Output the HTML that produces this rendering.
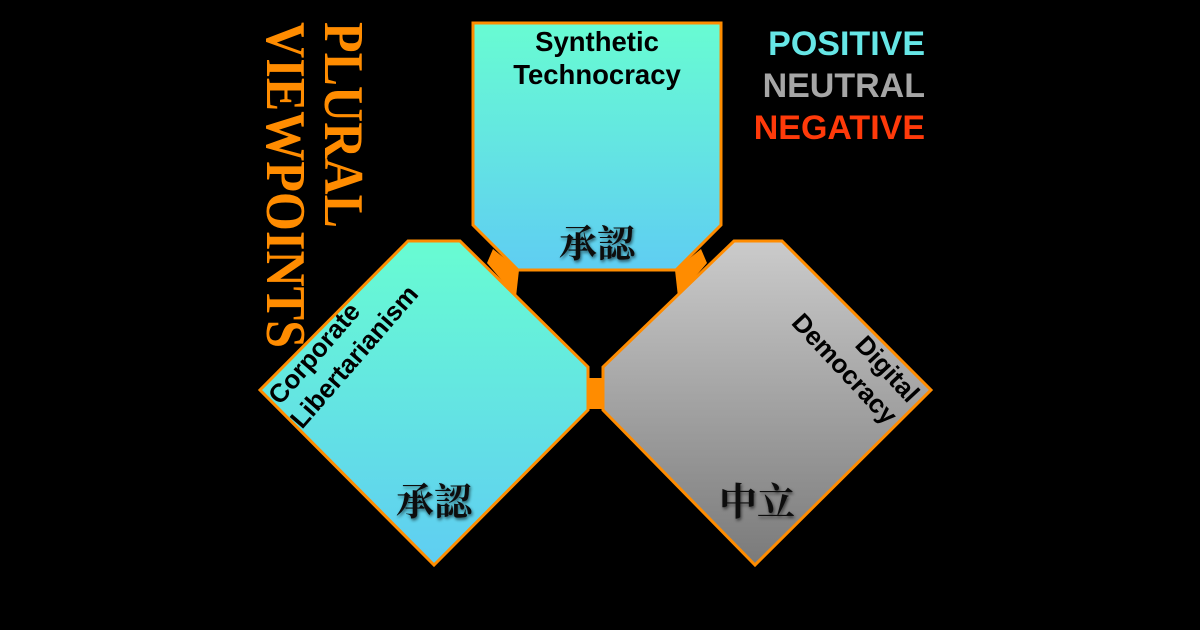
<!DOCTYPE html>
<html><head><meta charset="utf-8"><style>
html,body{margin:0;padding:0;background:#000;}
svg{display:block}
.s{font-family:"Liberation Sans",sans-serif;font-weight:bold;}
.c{font-family:"Liberation Serif","Noto Serif CJK SC",serif;font-weight:bold;font-size:38px;fill:#111;}
</style></head><body>
<svg width="1200" height="630" viewBox="0 0 1200 630" xmlns="http://www.w3.org/2000/svg">
<defs>
<linearGradient id="t" x1="0" y1="0" x2="0" y2="1"><stop offset="0" stop-color="#68fcd2"/><stop offset="1" stop-color="#5fcdf2"/></linearGradient>
<linearGradient id="g" x1="0" y1="0" x2="0" y2="1"><stop offset="0" stop-color="#cbcbcb"/><stop offset="1" stop-color="#7a7a7a"/></linearGradient>
<filter id="sh" x="-20%" y="-20%" width="140%" height="140%"><feGaussianBlur stdDeviation="1.5" in="SourceAlpha" result="b"/><feOffset dx="1" dy="2"/><feComponentTransfer><feFuncA type="linear" slope="0.6"/></feComponentTransfer><feMerge><feMergeNode/><feMergeNode in="SourceGraphic"/></feMerge></filter>
</defs>
<polygon points="493,249 519,270 516,297 487,263" fill="#ff8c00"/>
<polygon points="701,249 675,270 678,297 707,263" fill="#ff8c00"/>
<rect x="586" y="378" width="20" height="31" fill="#ff8c00"/>
<polygon points="473,23 721,23 721,225 676,270 518,270 473,225" fill="url(#t)" stroke="#ff8c00" stroke-width="3"/>
<polygon points="408,241 460,241 588,367 588,410 434,565 260,390" fill="url(#t)" stroke="#ff8c00" stroke-width="3"/>
<polygon points="734,241 782,241 931,390 755,565 603,410 603,367" fill="url(#g)" stroke="#ff8c00" stroke-width="3"/>

<text class="s" x="597" y="51" font-size="27.5" text-anchor="middle" fill="#000">Synthetic</text>
<text class="s" x="597" y="84" font-size="27.5" text-anchor="middle" fill="#000">Technocracy</text>
<text class="c" x="597" y="257" text-anchor="middle" filter="url(#sh)">承認</text>
<text class="c" x="434" y="515" text-anchor="middle" filter="url(#sh)">承認</text>
<text class="c" x="757" y="515" text-anchor="middle" filter="url(#sh)">中立</text>

<text class="s" font-size="26" fill="#000" transform="translate(280,406) rotate(-49)">Corporate</text>
<text class="s" font-size="26" fill="#000" transform="translate(302,430) rotate(-49)">Libertarianism</text>
<text class="s" font-size="26" fill="#000" text-anchor="end" transform="translate(908,404) rotate(47)">Digital</text>
<text class="s" font-size="26" fill="#000" text-anchor="end" transform="translate(886,426) rotate(47)">Democracy</text>

<text class="s" x="925" y="55" font-size="34" text-anchor="end" fill="#66e6e6">POSITIVE</text>
<text class="s" x="925" y="97" font-size="34" text-anchor="end" fill="#a6a6a6">NEUTRAL</text>
<text class="s" x="925" y="139" font-size="34" text-anchor="end" fill="#ff3a0a">NEGATIVE</text>

<text font-family="Liberation Serif,serif" font-weight="bold" font-size="56" fill="#ff8c00" textLength="206" lengthAdjust="spacingAndGlyphs" transform="translate(325,22) rotate(90)">PLURAL</text>
<text font-family="Liberation Serif,serif" font-weight="bold" font-size="56" fill="#ff8c00" textLength="326" lengthAdjust="spacingAndGlyphs" transform="translate(267,22) rotate(90)">VIEWPOINTS</text>
</svg>
</body></html>
